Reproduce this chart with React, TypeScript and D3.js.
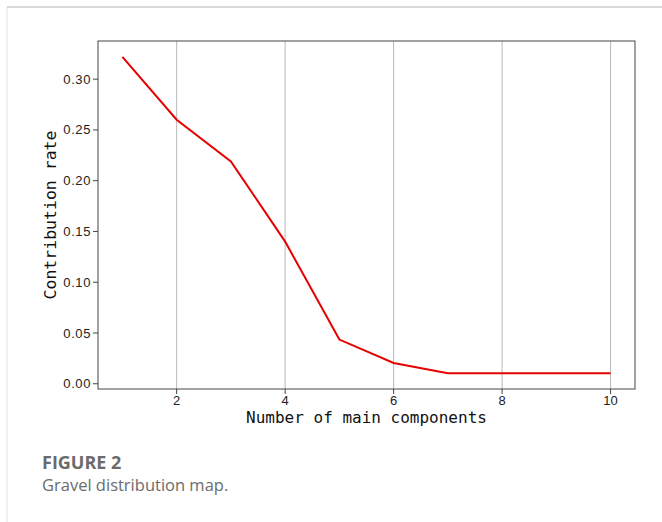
import React from "react";
import * as d3 from "d3";

// Contribution rate of each principal component
const components = [1, 2, 3, 4, 5, 6, 7, 8, 9, 10];
const contribution = [0.322, 0.26, 0.219, 0.14, 0.0435, 0.0205, 0.0104, 0.0104, 0.0104, 0.0104];
const xTicks = [2, 4, 6, 8, 10];
const yTicks = [0, 0.05, 0.1, 0.15, 0.2, 0.25, 0.3];

const W = 662;
const H = 522;
const plot = { left: 98, right: 635, top: 41, bottom: 389 };
const mono = "'DejaVu Sans Mono', monospace";
const tickFont = "'Liberation Sans', Arial, sans-serif";
const sans = "'Open Sans', 'Noto Sans', sans-serif";

export default function App() {
  // matplotlib-style 5% padding around the data range
  const xMin = d3.min(components)!;
  const xMax = d3.max(components)!;
  const xPad = (xMax - xMin) * 0.05;
  const yMin = d3.min(contribution)!;
  const yMax = d3.max(contribution)!;
  const yPad = (yMax - yMin) * 0.05;

  const x = d3.scaleLinear().domain([xMin - xPad, xMax + xPad]).range([plot.left, plot.right]);
  const y = d3.scaleLinear().domain([yMin - yPad, yMax + yPad]).range([plot.bottom, plot.top]);

  const line = d3
    .line<number>()
    .x((_, i) => x(components[i]))
    .y((d) => y(d));

  const fmt = d3.format(".2f");

  return (
    <svg
      width={W}
      height={H}
      style={{ position: "absolute", left: 0, top: 0, background: "#fff" }}
    >
      {/* card frame */}
      <line x1={7} y1={7} x2={W} y2={7} stroke="#d9d9d9" strokeWidth={2} />
      <line x1={7} y1={7} x2={7} y2={H} stroke="#e2e2e2" strokeWidth={1} />

      {/* vertical grid */}
      {xTicks.map((t) => (
        <line
          key={"g" + t}
          x1={x(t)}
          x2={x(t)}
          y1={plot.top}
          y2={plot.bottom}
          stroke="#b8b8b8"
          strokeWidth={1}
        />
      ))}

      {/* data line */}
      <path d={line(contribution)!} fill="none" stroke="#e60000" strokeWidth={2} />

      {/* axes frame */}
      <rect
        x={plot.left}
        y={plot.top}
        width={plot.right - plot.left}
        height={plot.bottom - plot.top}
        fill="none"
        stroke="#444"
        strokeWidth={1}
      />

      {/* x ticks */}
      {xTicks.map((t) => (
        <g key={"x" + t} transform={`translate(${x(t)},${plot.bottom})`}>
          <line y1={0} y2={5} stroke="#444" />
          <text y={16} textAnchor="middle" fontFamily={tickFont} fontSize={13} fill="#222">
            {t}
          </text>
        </g>
      ))}

      {/* y ticks */}
      {yTicks.map((t) => (
        <g key={"y" + t} transform={`translate(${plot.left},${y(t)})`}>
          <line x1={0} x2={-5} stroke="#444" />
          <text
            x={-7}
            dy="0.35em"
            textAnchor="end"
            fontFamily={tickFont}
            fontSize={13}
            letterSpacing={0.6}
            fill="#222"
          >
            {fmt(t)}
          </text>
        </g>
      ))}

      {/* axis titles */}
      <text
        x={(plot.left + plot.right) / 2}
        y={423}
        textAnchor="middle"
        fontFamily={mono}
        fontSize={16}
        fill="#111"
      >
        Number of main components
      </text>
      <text
        transform={`translate(56,${(plot.top + plot.bottom) / 2}) rotate(-90)`}
        textAnchor="middle"
        fontFamily={mono}
        fontSize={16.5}
        fill="#111"
      >
        Contribution rate
      </text>

      {/* caption */}
      <text x={42} y={469} fontFamily={sans} fontWeight={700} fontSize={18} fill="#6b6b6b">
        FIGURE 2
      </text>
      <text x={42} y={491} fontFamily={sans} fontSize={16.5} fill="#6b6b6b">
        Gravel distribution map.
      </text>
    </svg>
  );
}
